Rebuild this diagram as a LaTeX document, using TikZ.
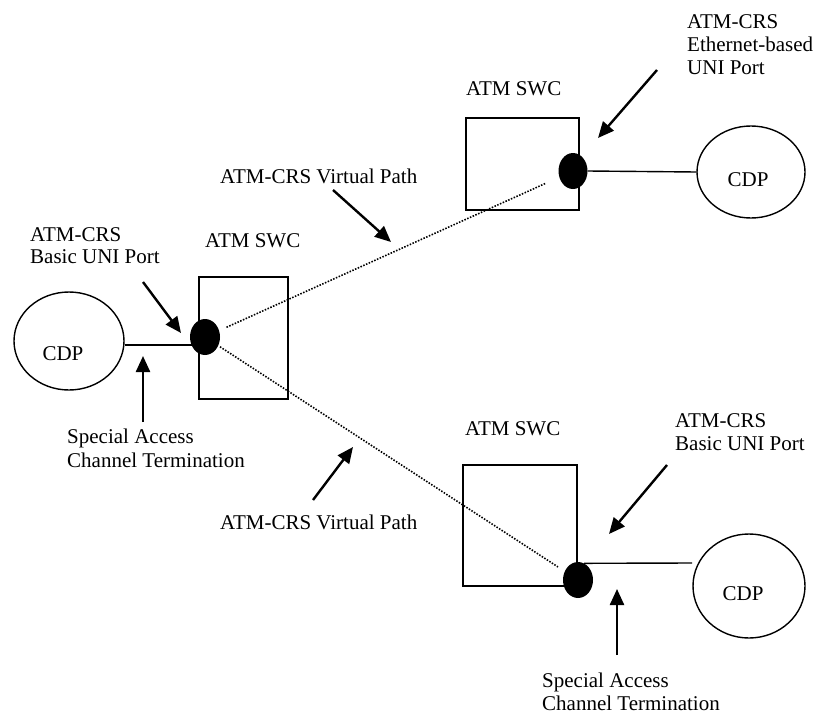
\documentclass[tikz,border=0pt]{standalone}
\usepackage{fontspec}
\setmainfont{Liberation Serif}
\usetikzlibrary{shapes.geometric,arrows.meta}
\begin{document}
\begin{tikzpicture}[x=1pt,y=-1pt,
  txt/.style={anchor=base west,inner sep=0pt,font=\fontsize{21}{24}\selectfont},
  ctxt/.style={anchor=center,inner sep=0pt,font=\fontsize{21}{24}\selectfont},
  swc/.style={draw,line width=1.4pt,rectangle,inner sep=0pt},
  cdp/.style={draw,line width=1.4pt,ellipse,inner sep=0pt},
  port/.style={fill=black,ellipse,inner sep=0pt,minimum width=30pt,minimum height=36pt},
  ptr/.style={line width=2.4pt,-{Triangle[length=16pt,width=14pt]}},
  vpath/.style={line width=1.6pt,dash pattern=on 1.5pt off 1.5pt},
  link/.style={line width=1.4pt}]
\useasboundingbox (0,0) rectangle (827,715);

% switches
\node[swc,minimum width=89pt,minimum height=122pt] (boxL) at (243.5,338) {};
\node[swc,minimum width=113pt,minimum height=92pt] (boxT) at (522.5,164) {};
\node[swc,minimum width=114pt,minimum height=121pt] (boxB) at (520,525.5) {};

% CDPs
\node[cdp,minimum width=110pt,minimum height=98pt] (cdpL) at (69,341) {};
\node[cdp,minimum width=108pt,minimum height=92pt] (cdpT) at (751,172) {};
\node[cdp,minimum width=112pt,minimum height=104pt] (cdpB) at (749,586) {};
\node[ctxt] (cdpLt) at (63,354) {CDP};
\node[ctxt] (cdpTt) at (748,180) {CDP};
\node[ctxt] (cdpBt) at (743,594) {CDP};

% ports
\node[port] (portL) at (205,337) {};
\node[port,minimum width=29pt] (portT) at (573,171) {};
\node[port] (portB) at (578,580) {};

% access links
\coordinate (jL) at (192,345);
\draw[link] (cdpL.east |- jL) -- (jL);
\draw[link] (portT.east) -- (cdpT.west);
\coordinate (jB) at (692,563);
\draw[link] (portB.70) -- (jB);

% virtual paths
\draw[vpath,shorten <=8pt,shorten >=15pt] (portL) -- (portT);
\draw[vpath,shorten <=2pt,shorten >=8pt] (portL) -- (portB);

% labels
\node[txt] (tT1) at (687,28) {ATM-CRS};
\node[txt] (tT2) at (687,51) {Ethernet-based};
\node[txt] (tT3) at (687,74) {UNI Port};
\node[txt] (swcT) at (466,95) {ATM SWC};
\node[txt] (vp1) at (220,183) {ATM-CRS Virtual Path};
\node[txt] (tL1) at (30,241) {ATM-CRS};
\node[txt] (tL2) at (30,263) {Basic UNI Port};
\node[txt] (swcL) at (205,247) {ATM SWC};
\node[txt] (sL1) at (67,443) {Special Access};
\node[txt] (sL2) at (67,467) {Channel Termination};
\node[txt] (vp2) at (220,529) {ATM-CRS Virtual Path};
\node[txt] (swcB) at (465,435) {ATM SWC};
\node[txt] (tB1) at (675,427) {ATM-CRS};
\node[txt] (tB2) at (675,450) {Basic UNI Port};
\node[txt] (sB1) at (542,687) {Special Access};
\node[txt] (sB2) at (542,710) {Channel Termination};

% pointer arrows
\coordinate (aL1s) at (143,282); \coordinate (aL1e) at (181,333);
\coordinate (aL2s) at (143,422); \coordinate (aL2e) at (143,356);
\coordinate (aV1s) at (333,190); \coordinate (aV1e) at (391,242);
\coordinate (aTs) at (657,70);   \coordinate (aTe) at (598,138);
\coordinate (aV2s) at (313,500); \coordinate (aV2e) at (353,447);
\coordinate (aBs) at (667,465);  \coordinate (aBe) at (609,534);
\coordinate (aB2s) at (617,655); \coordinate (aB2e) at (617,589);
\draw[ptr] (aL1s) -- (aL1e);
\draw[ptr] (aL2s) -- (aL2e);
\draw[ptr] (aV1s) -- (aV1e);
\draw[ptr] (aTs) -- (aTe);
\draw[ptr] (aV2s) -- (aV2e);
\draw[ptr] (aBs) -- (aBe);
\draw[ptr] (aB2s) -- (aB2e);
\end{tikzpicture}
\end{document}
